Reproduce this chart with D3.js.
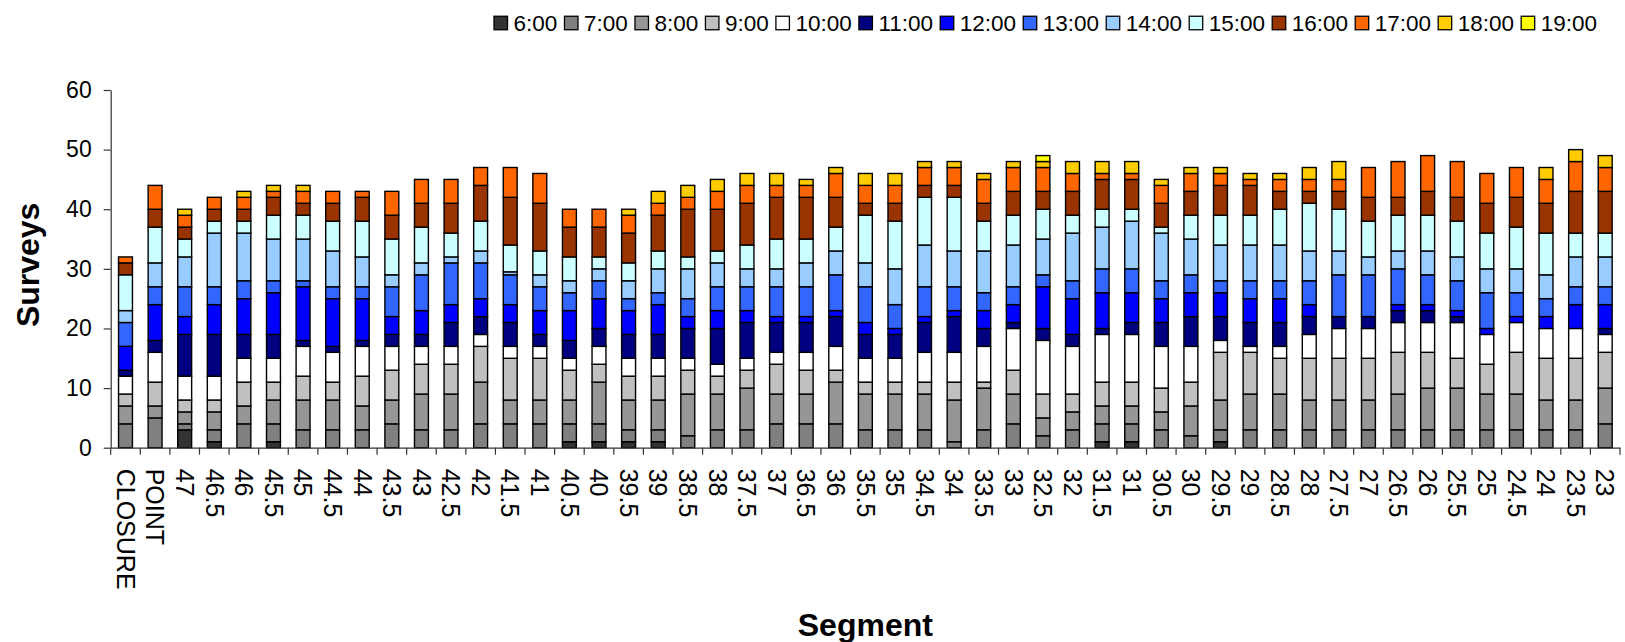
<!DOCTYPE html>
<html>
<head>
<meta charset="utf-8">
<script src="https://cdn.jsdelivr.net/npm/d3@7"></script>
<style>
  body { margin: 0; background: #fff; }
  svg { display: block; }
  text { font-family: "Liberation Sans", Arial, Helvetica, sans-serif; fill: #000; }
</style>
</head>
<body>
<svg id="chart" width="1625" height="642"></svg>
<script>
// Survey segments along the route, in the order they are plotted
const segments = ["CLOSURE", "POINT", "47", "46.5", "46", "45.5", "45", "44.5", "44", "43.5",
  "43", "42.5", "42", "41.5", "41", "40.5", "40", "39.5", "39", "38.5",
  "38", "37.5", "37", "36.5", "36", "35.5", "35", "34.5", "34", "33.5",
  "33", "32.5", "32", "31.5", "31", "30.5", "30", "29.5", "29", "28.5",
  "28", "27.5", "27", "26.5", "26", "25.5", "25", "24.5", "24", "23.5", "23"];

// Hour of day for each stacked series
const hours = ["6:00", "7:00", "8:00", "9:00", "10:00", "11:00", "12:00",
  "13:00", "14:00", "15:00", "16:00", "17:00", "18:00", "19:00"];

const hourColors = ["#333333", "#808080", "#969696", "#c0c0c0", "#ffffff", "#000080", "#0000ff",
  "#3366ff", "#99ccff", "#ccffff", "#993300", "#ff6600", "#ffcc00", "#ffff00"];

// Number of surveys per segment, one array per hour
const h0600 = [0,0,3,1,0,1,0,0,0,0, 0,0,0,0,0,1,1,1,1,0, 0,0,0,0,0,0,0,0,0,0, 0,0,0,1,1,0,0,1,0,0, 0,0,0,0,0,0,0,0,0,0, 0];
const h0700 = [4,5,1,2,4,3,3,3,3,4, 3,3,4,4,4,3,3,2,2,2, 3,3,4,4,4,3,3,3,1,3, 4,2,3,3,3,3,2,2,3,3, 3,3,3,3,3,3,3,3,3,3, 4];
const h0800 = [3,2,2,3,3,4,5,5,4,4, 6,6,7,4,4,4,7,5,5,7, 6,7,5,5,7,6,6,6,7,7, 5,3,3,3,3,3,5,5,6,6, 5,5,5,6,7,7,6,6,5,5, 6];
const h0900 = [2,4,2,2,4,3,4,3,5,5, 5,5,6,7,7,5,3,4,4,4, 3,3,5,4,2,2,2,2,3,1, 4,4,3,4,4,4,4,8,7,6, 7,7,7,7,6,5,5,7,7,7, 6];
const h1000 = [3,5,4,4,4,4,5,5,5,4, 3,3,2,2,2,2,3,3,3,2, 2,2,2,3,4,4,4,5,5,6, 7,9,8,8,8,7,6,2,1,2, 4,5,5,5,5,6,5,5,5,5, 3];
const h1100 = [1,2,7,7,4,4,1,1,1,2, 2,4,3,4,2,3,3,4,4,5, 6,6,5,5,5,4,4,5,6,3, 1,2,2,1,2,4,5,4,4,4, 3,2,2,2,2,1,0,0,0,0, 1];
const h1200 = [4,6,3,5,6,7,9,8,7,3, 4,3,3,3,4,5,5,4,5,2, 3,2,1,1,1,2,1,1,1,3, 3,7,6,6,5,4,4,4,4,4, 2,0,0,1,1,1,1,1,2,4, 4];
const h1300 = [4,3,5,3,3,2,1,2,2,5, 6,7,6,5,4,3,3,2,2,3, 4,4,5,5,6,6,4,5,4,3, 3,2,3,4,4,3,3,2,3,3, 4,7,7,6,5,5,6,4,3,3, 3];
const h1400 = [2,4,5,9,8,7,7,6,5,2, 2,1,2,0.5,2,2,2,3,4,5, 4,3,3,4,4,4,6,7,6,7, 7,6,8,7,8,8,6,6,6,6, 5,4,3,3,4,4,4,4,4,5, 5];
const h1500 = [6,6,3,2,2,4,4,5,6,6, 6,4,5,4.5,4,4,2,3,3,2, 2,4,5,4,4,8,8,8,9,5, 5,5,3,3,2,1,4,5,5,6, 8,7,6,6,6,6,6,7,7,4, 4];
const h1600 = [2,3,2,2,2,3,2,3,4,4, 4,5,6,8,8,5,5,5,6,8, 7,7,7,7,5,2,3,2,2,3, 4,3,4,5,5,4,4,5,5,3, 2,3,4,3,4,4,5,5,5,7, 7];
const h1700 = [1,4,2,2,2,1,2,2,1,4, 4,4,3,5,5,3,3,3,2,2, 3,3,2,2,4,3,3,3,3,4, 4,4,3,1,1,3,3,2,1,2, 2,2,5,6,6,6,5,5,4,5, 4];
const h1800 = [0,0,1,0,1,1,1,0,0,0, 0,0,0,0,0,0,0,1,2,2, 2,2,2,1,1,2,2,1,1,1, 1,1,2,2,2,1,1,1,1,1, 2,3,0,0,0,0,0,0,2,2, 2];
const h1900 = [0,0,0,0,0,0,0,0,0,0, 0,0,0,0,0,0,0,0,0,0, 0,0,0,0,0,0,0,0,0,0, 0,1,0,0,0,0,0,0,0,0, 0,0,0,0,0,0,0,0,0,0, 0];

const yTickValues = [0, 10, 20, 30, 40, 50, 60];

const seriesValues = [h0600, h0700, h0800, h0900, h1000, h1100, h1200,
  h1300, h1400, h1500, h1600, h1700, h1800, h1900];

// Table of rows keyed by hour, for d3.stack
const rows = segments.map((seg, i) => {
  const row = { segment: seg };
  hours.forEach((h, k) => { row[h] = seriesValues[k][i]; });
  return row;
});
const stacked = d3.stack().keys(hours)(rows);

const svg = d3.select("#chart");
const plot = { left: 110.7, right: 1620, top: 90, bottom: 447.7 };

const x = d3.scaleBand()
  .domain(segments)
  .range([plot.left, plot.right])
  .paddingInner(0.53)
  .paddingOuter(0.265);

const y = d3.scaleLinear()
  .domain([0, 60])
  .range([plot.bottom, plot.top]);

const color = d3.scaleOrdinal().domain(hours).range(hourColors);

// Stacked bars
const layers = svg.append("g").attr("class", "bars")
  .selectAll("g")
  .data(stacked)
  .join("g")
  .attr("fill", d => color(d.key));

layers.selectAll("rect")
  .data(d => d.filter(p => p[1] - p[0] > 0))
  .join("rect")
  .attr("x", d => x(d.data.segment))
  .attr("width", x.bandwidth())
  .attr("y", d => y(d[1]))
  .attr("height", d => y(d[0]) - y(d[1]))
  .attr("stroke", "#000")
  .attr("stroke-width", 1.4);

// Y axis
const yAxis = svg.append("g")
  .attr("transform", `translate(${plot.left},0)`)
  .call(d3.axisLeft(y).tickValues(yTickValues).tickSize(7).tickSizeOuter(0).tickPadding(12));
yAxis.selectAll("path, line").attr("stroke", "#333").attr("stroke-width", 1.2);
yAxis.selectAll("text")
  .attr("font-size", 23)
  .attr("font-family", "'Liberation Sans', Arial, sans-serif")
  .attr("fill", "#000");

// X axis with category labels written top to bottom
const xAxis = svg.append("g")
  .attr("transform", `translate(0,${plot.bottom})`)
  .call(d3.axisBottom(x).tickSize(0).tickSizeOuter(0));
xAxis.select(".domain").attr("stroke", "#333").attr("stroke-width", 1.2);
xAxis.selectAll("text")
  .attr("font-size", 25)
  .attr("font-family", "'Liberation Sans', Arial, sans-serif")
  .attr("fill", "#000")
  .attr("transform", "rotate(90)")
  .attr("x", 21)
  .attr("y", 0)
  .attr("dy", "0.35em")
  .style("text-anchor", "start");

// Tick marks between categories
const edges = d3.range(segments.length + 1).map(i => plot.left + i * x.step());
xAxis.selectAll("line.sep")
  .data(edges)
  .join("line")
  .attr("class", "sep")
  .attr("x1", d => d).attr("x2", d => d)
  .attr("y1", 0).attr("y2", 7)
  .attr("stroke", "#333").attr("stroke-width", 1.2);

// Axis titles
svg.append("text")
  .attr("x", (plot.left + plot.right) / 2)
  .attr("y", 636)
  .attr("text-anchor", "middle")
  .attr("font-size", 32)
  .attr("font-weight", "bold")
  .text("Segment");

svg.append("text")
  .attr("transform", `translate(39,${(plot.top + plot.bottom) / 2 - 4}) rotate(-90)`)
  .attr("text-anchor", "middle")
  .attr("font-size", 32)
  .attr("font-weight", "bold")
  .text("Surveys");

// Legend across the top, spread between a fixed start and end
const legendStart = 494, legendEnd = 1597;
const sq = 13.5, sqGap = 6, legendY = 23;
const legend = svg.append("g").attr("class", "legend");
const items = hours.map((h, k) => {
  const g = legend.append("g");
  const rect = g.append("rect")
    .attr("width", sq).attr("height", sq)
    .attr("y", legendY - sq / 2)
    .attr("fill", hourColors[k])
    .attr("stroke", "#000").attr("stroke-width", 1.3);
  const t = g.append("text")
    .attr("y", legendY)
    .attr("dy", "0.35em")
    .attr("font-size", 22.5)
    .text(h);
  return { rect, t, w: t.node().getComputedTextLength() };
});
const used = d3.sum(items, d => sq + sqGap + d.w);
const itemGap = (legendEnd - legendStart - used) / (items.length - 1);
let lx = legendStart;
items.forEach(d => {
  d.rect.attr("x", lx);
  d.t.attr("x", lx + sq + sqGap);
  lx += sq + sqGap + d.w + itemGap;
});
</script>
</body>
</html>
